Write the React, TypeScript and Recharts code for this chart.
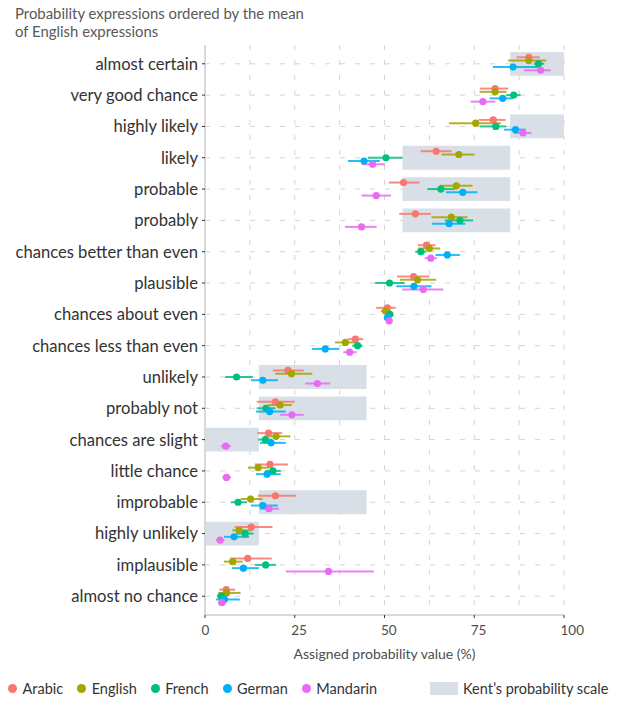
import React from "react";
import {
  ScatterChart,
  Scatter,
  XAxis,
  YAxis,
  CartesianGrid,
  ErrorBar,
  ReferenceArea,
} from "recharts";

const categories = [
  "almost certain",
  "very good chance",
  "highly likely",
  "likely",
  "probable",
  "probably",
  "chances better than even",
  "plausible",
  "chances about even",
  "chances less than even",
  "unlikely",
  "probably not",
  "chances are slight",
  "little chance",
  "improbable",
  "highly unlikely",
  "implausible",
  "almost no chance",
];

const languages = ["Arabic", "English", "French", "German", "Mandarin"];
const languageColors = ["#F8766D", "#A3A500", "#00BF7D", "#00B0F6", "#E76BF3"];

const arabicMean = [90.2, 80.8, 80.3, 64.4, 55.3, 58.6, 61.7, 58.1, 50.8, 41.9, 23.1, 19.6, 17.7, 18.1, 19.6, 12.9, 11.9, 5.9];
const arabicLow = [86.8, 76.5, 76.2, 60.1, 51.2, 54.1, 59.3, 53.5, 47.7, 39.8, 18.9, 14.4, 14.6, 13.9, 14.7, 8.3, 7.0, 4.0];
const arabicHigh = [93.2, 84.5, 83.7, 68.7, 59.8, 62.9, 64.2, 62.5, 53.1, 44.1, 27.5, 25.0, 21.5, 23.1, 25.3, 18.8, 18.6, 8.4];

const englishMean = [90.2, 80.8, 75.4, 70.7, 70.0, 68.6, 62.5, 59.2, 50.3, 39.1, 24.1, 20.9, 19.8, 14.8, 12.7, 9.5, 7.7, 6.0];
const englishLow = [84.4, 76.5, 68.0, 65.9, 65.4, 63.1, 59.4, 54.3, 49.0, 36.2, 19.6, 17.6, 16.5, 12.0, 9.9, 7.6, 5.3, 3.7];
const englishHigh = [95.1, 84.0, 82.4, 75.1, 74.5, 73.1, 65.5, 64.4, 51.8, 41.9, 29.9, 24.2, 23.8, 17.8, 16.0, 13.0, 10.5, 9.9];

const frenchMean = [92.9, 86.0, 81.0, 50.4, 65.7, 71.0, 60.1, 51.4, 51.5, 42.5, 8.8, 17.0, 16.8, 18.9, 9.2, 11.2, 16.9, 4.5];
const frenchLow = [91.6, 83.9, 76.5, 45.4, 61.9, 66.8, 58.6, 47.4, 50.4, 41.0, 5.6, 14.4, 14.8, 16.8, 7.2, 8.6, 13.9, 3.3];
const frenchHigh = [94.5, 87.9, 83.9, 55.0, 69.6, 74.7, 61.7, 55.6, 52.4, 43.9, 13.3, 19.6, 18.8, 21.1, 11.7, 13.5, 19.8, 6.0];

const germanMean = [85.8, 82.9, 86.5, 44.3, 71.8, 68.0, 67.5, 58.2, 50.8, 33.5, 16.1, 18.0, 18.4, 17.3, 16.1, 8.1, 10.7, 5.4];
const germanLow = [80.2, 79.3, 83.3, 39.8, 67.1, 63.2, 64.2, 53.3, 50.3, 29.8, 12.8, 14.2, 15.3, 14.2, 12.8, 5.3, 7.5, 3.1];
const germanHigh = [92.9, 85.8, 89.3, 48.7, 75.9, 72.5, 71.0, 63.1, 51.5, 37.3, 20.3, 22.5, 22.5, 21.1, 20.3, 12.3, 15.0, 9.7];

const mandarinMean = [93.5, 77.4, 88.6, 46.7, 47.7, 43.6, 62.9, 60.8, 51.3, 40.3, 31.3, 24.2, 5.8, 6.0, 17.8, 4.2, 34.4, 4.7];
const mandarinLow = [88.8, 74.0, 86.1, 43.7, 43.6, 39.0, 61.2, 54.9, 50.6, 38.5, 27.9, 20.9, 4.5, 4.8, 15.3, 3.1, 22.5, 3.6];
const mandarinHigh = [96.3, 80.9, 90.9, 50.1, 51.8, 47.8, 64.6, 66.4, 52.2, 42.2, 34.9, 27.5, 7.2, 7.3, 20.6, 5.4, 47.0, 5.8];

// Kent's probability scale bands
const kentCategories = [
  "almost certain",
  "highly likely",
  "likely",
  "probable",
  "probably",
  "unlikely",
  "probably not",
  "chances are slight",
  "improbable",
  "highly unlikely",
];
const kentFrom = [85, 85, 55, 55, 55, 15, 15, 0, 15, 0];
const kentTo = [100, 100, 85, 85, 85, 45, 45, 15, 45, 15];

const xTicks = [0, 25, 50, 75, 100];
const gridX = [0, 12.5, 25, 37.5, 50, 62.5, 75, 87.5, 100];

const seriesMeans = [arabicMean, englishMean, frenchMean, germanMean, mandarinMean];
const seriesLows = [arabicLow, englishLow, frenchLow, germanLow, mandarinLow];
const seriesHighs = [arabicHigh, englishHigh, frenchHigh, germanHigh, mandarinHigh];

const FONT = "Lato, 'Noto Sans', sans-serif";
const DODGE = 0.104;
const BAND = "#d9dfe6";

const buildSeries = (k: number) =>
  categories.map((c, i) => ({
    name: c,
    x: seriesMeans[k][i],
    y: i + (k - 2) * DODGE,
    err: [seriesMeans[k][i] - seriesLows[k][i], seriesHighs[k][i] - seriesMeans[k][i]],
  }));

const XTick = (props: any) => (
  <text
    x={props.x - 3.5}
    y={props.y}
    dy="0.71em"
    textAnchor="start"
    fill="#4d4d4d"
    fontSize={13.5}
    fontFamily={FONT}
  >
    {props.payload.value}
  </text>
);

const App: React.FC = () => {
  return (
    <div style={{ position: "relative", width: 605, height: 694, fontFamily: FONT }}>
      <div
        style={{
          position: "absolute",
          left: 7,
          top: -4,
          fontSize: 14.9,
          lineHeight: "18px",
          color: "#595959",
        }}
      >
        Probability expressions ordered by the mean
        <br />
        of English expressions
      </div>
      <div style={{ position: "absolute", left: 0, top: 0 }}>
        <ScatterChart
          width={605}
          height={668}
          margin={{ top: 37, right: 49, left: 0, bottom: 5 }}
        >
          <CartesianGrid
            stroke="#d4d4d4"
            strokeDasharray="5 10"
            verticalValues={gridX}
            horizontalValues={categories.map((_, i) => i)}
          />
          {kentCategories.map((c, i) => {
            const idx = categories.indexOf(c);
            return (
              <ReferenceArea
                key={c}
                x1={kentFrom[i]}
                x2={kentTo[i]}
                y1={idx - 0.38}
                y2={idx + 0.38}
                fill={BAND}
                fillOpacity={1}
                stroke="none"
              />
            );
          })}
          <XAxis
            type="number"
            dataKey="x"
            domain={[0, 100]}
            ticks={xTicks}
            height={56}
            axisLine={{ stroke: "#d9d9d9", strokeWidth: 2 }}
            tickLine={{ stroke: "#333" }}
            tickSize={3}
            tickMargin={7}
            tick={<XTick />}
            label={{
              value: "Assigned probability value (%)",
              position: "insideBottom",
              offset: 12,
              fill: "#4d4d4d",
              fontSize: 14,
              fontFamily: FONT,
            }}
          />
          <YAxis
            type="number"
            dataKey="y"
            domain={[-0.6, 17.6]}
            reversed
            ticks={categories.map((_, i) => i)}
            interval={0}
            tickFormatter={(v: number) => categories[v]}
            width={197}
            axisLine={{ stroke: "#d9d9d9", strokeWidth: 2 }}
            tickLine={{ stroke: "#333" }}
            tickSize={3}
            tickMargin={4}
            tick={{ fill: "#333", fontSize: 16.6, fontFamily: FONT }}
          />
          {languages.map((lang, k) => (
            <Scatter
              key={lang}
              name={lang}
              data={buildSeries(k)}
              fill={languageColors[k]}
              isAnimationActive={false}
              shape={(p: any) => (
                <circle cx={p.cx} cy={p.cy} r={3.6} fill={languageColors[k]} />
              )}
            >
              <ErrorBar
                dataKey="err"
                direction="x"
                width={0}
                stroke={languageColors[k]}
                strokeWidth={2}
                strokeOpacity={0.85}
              />
            </Scatter>
          ))}
        </ScatterChart>
      </div>
      <div
        style={{
          position: "absolute",
          left: 0,
          top: 672,
          display: "flex",
          alignItems: "center",
          fontSize: 14.5,
          color: "#333",
          whiteSpace: "nowrap",
        }}
      >
        {languages.map((lang, k) => (
          <span key={lang} style={{ display: "flex", alignItems: "center", marginRight: 14 }}>
            <span
              style={{
                width: 9,
                height: 9,
                borderRadius: "50%",
                background: languageColors[k],
                marginRight: 5.5,
                display: "inline-block",
              }}
            />
            {lang}
          </span>
        ))}
      </div>
      <div
        style={{
          position: "absolute",
          left: 422,
          top: 672,
          display: "flex",
          alignItems: "center",
          fontSize: 14.5,
          color: "#333",
          whiteSpace: "nowrap",
        }}
      >
        <span
          style={{
            width: 28,
            height: 13,
            background: BAND,
            marginRight: 5,
            display: "inline-block",
          }}
        />
        Kent’s probability scale
      </div>
    </div>
  );
};

export default App;
